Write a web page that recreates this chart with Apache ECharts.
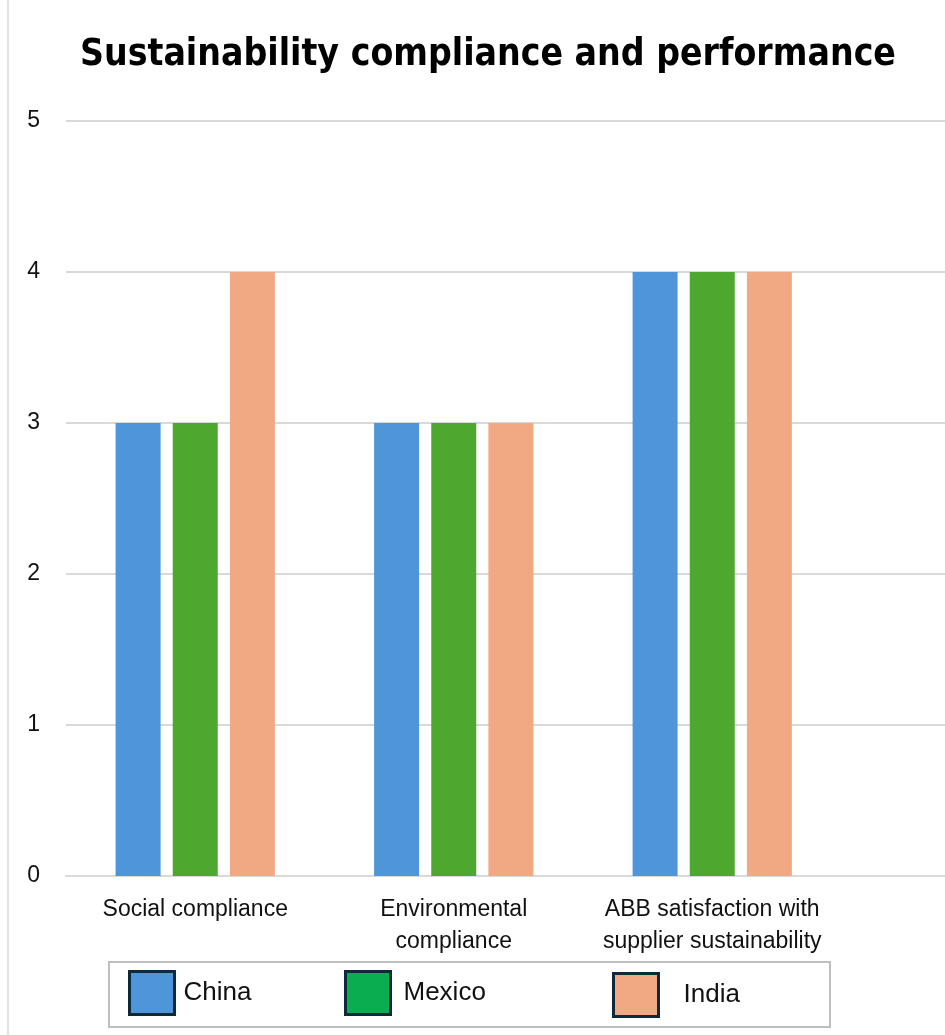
<!DOCTYPE html>
<html>
<head>
<meta charset="utf-8">
<script src="https://cdn.jsdelivr.net/npm/echarts@6/dist/echarts.min.js"></script>
<style>
html,body{margin:0;padding:0;background:#fff;}
#chart{width:945px;height:1035px;}
</style>
</head>
<body>
<div id="chart"></div>
<script>
const categories = ['Social compliance', 'Environmental\ncompliance', 'ABB satisfaction with\nsupplier sustainability', ''];
const seriesNames = ['China', 'Mexico', 'India'];
const chinaValues = [3, 3, 4];
const mexicoValues = [3, 3, 4];
const indiaValues = [4, 3, 4];
const yTicks = [0, 1, 2, 3, 4, 5];

const barColors = ['#4E95D9', '#4EA72E', '#F1A983'];
const legendColors = ['#4E95D9', '#0AAD4F', '#F1A983'];
const textFont = "'Liberation Sans', Arial, sans-serif";

const chart = echarts.init(document.getElementById('chart'), null, {renderer: 'canvas'});

function legendFor(i, left, top, textPad) {
  return {
    left: left,
    top: top,
    orient: 'horizontal',
    icon: 'rect',
    itemWidth: 45,
    itemHeight: 43,
    padding: 0,
    selectedMode: false,
    data: [{
      name: seriesNames[i],
      itemStyle: {color: legendColors[i], borderColor: '#0E2A3A', borderWidth: 3}
    }],
    textStyle: {fontSize: 26, color: '#111', fontFamily: textFont, padding: [0, 0, 0, textPad]}
  };
}

const option = {
  backgroundColor: '#fff',
  animation: false,
  title: {
    text: 'Sustainability compliance and performance',
    left: 80,
    top: 37,
    padding: 0,
    textStyle: {fontSize: 37, fontWeight: 'bold', color: '#000', fontFamily: "'Liberation Sans Narrow', 'DejaVu Sans Condensed', sans-serif"}
  },
  graphic: [{
    type: 'line',
    shape: {x1: 8, y1: 0, x2: 8, y2: 1035},
    style: {stroke: '#d9d9d9', lineWidth: 1.5},
    silent: true
  }, {
    type: 'rect',
    shape: {x: 109, y: 962, width: 721, height: 65},
    style: {fill: null, stroke: '#BFBFBF', lineWidth: 2},
    silent: true,
    z: -1
  }],
  legend: [
    legendFor(0, 128, 970, 4),
    legendFor(1, 344, 970, 8),
    legendFor(2, 612, 972, 20)
  ],
  grid: {left: 66, top: 121, bottom: 159, right: -155, containLabel: false, outerBoundsMode: 'none'},
  xAxis: {
    type: 'category',
    data: categories,
    axisTick: {show: false},
    axisLine: {show: true, lineStyle: {color: '#D9D9D9', width: 2}},
    axisLabel: {
      fontSize: 23, color: '#111', fontFamily: textFont,
      lineHeight: 32, margin: 18, interval: 0
    }
  },
  yAxis: {
    type: 'value',
    min: yTicks[0],
    max: yTicks[yTicks.length - 1],
    interval: 1,
    axisLine: {show: false},
    axisTick: {show: false},
    splitLine: {lineStyle: {color: '#D9D9D9', width: 2}},
    axisLabel: {fontSize: 23, color: '#111', fontFamily: textFont, margin: 26}
  },
  series: [
    {name: seriesNames[0], type: 'bar', data: chinaValues, barWidth: 45, barGap: '27%', itemStyle: {color: barColors[0]}},
    {name: seriesNames[1], type: 'bar', data: mexicoValues, barWidth: 45, barGap: '27%', itemStyle: {color: barColors[1]}},
    {name: seriesNames[2], type: 'bar', data: indiaValues, barWidth: 45, barGap: '27%', itemStyle: {color: barColors[2]}}
  ]
};
chart.setOption(option);
</script>
</body>
</html>
